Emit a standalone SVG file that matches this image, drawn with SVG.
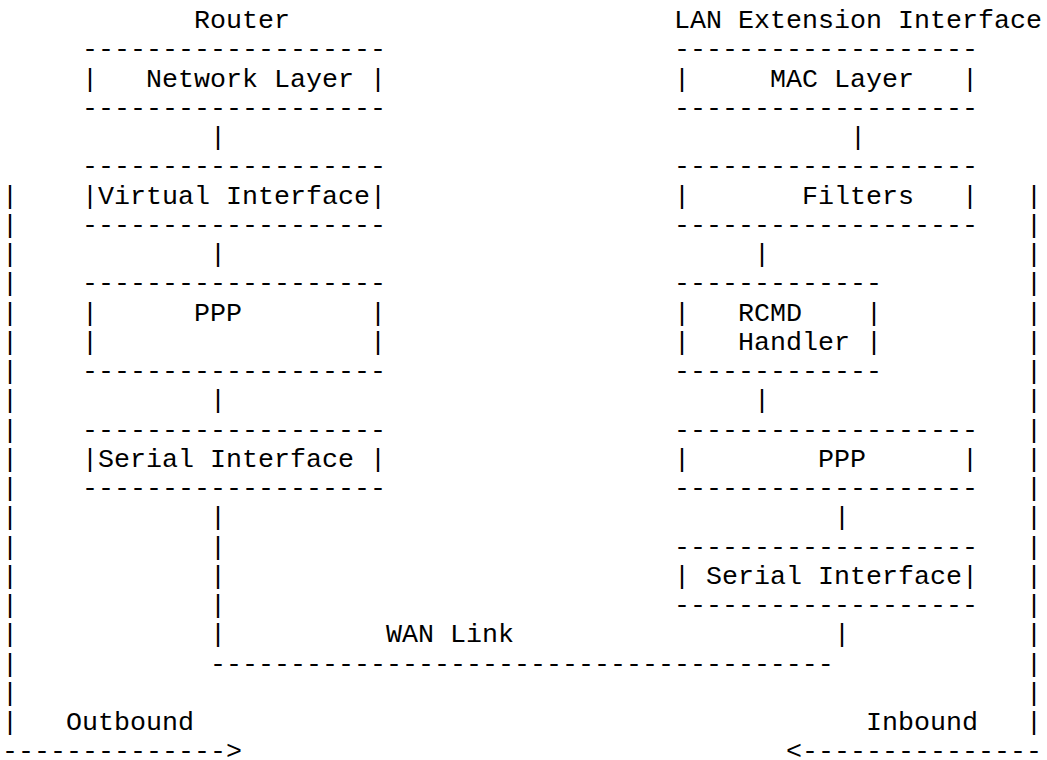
<svg xmlns="http://www.w3.org/2000/svg" width="1047" height="760" viewBox="0 0 1047 760">
<style>
text{font-family:"Liberation Mono","Courier New",monospace;font-size:26.667px;fill:#000;white-space:pre}
</style>
<rect width="1047" height="760" fill="#fff"/>
<g id="label-router"><text x="194" y="28">Router</text></g>
<g id="label-lan-ext"><text x="674" y="28">LAN Extension Interface</text></g>
<g id="node-network-layer" xml:space="preserve">
<text x="82" y="57.25">-------------------</text>
<text x="82" y="86.5">|   Network Layer |</text>
<text x="82" y="115.75">-------------------</text>
</g>
<g id="node-virtual-interface" xml:space="preserve">
<text x="82" y="174.25">-------------------</text>
<text x="82" y="203.5">|Virtual Interface|</text>
<text x="82" y="232.75">-------------------</text>
</g>
<g id="node-ppp-router" xml:space="preserve">
<text x="82" y="291.25">-------------------</text>
<text x="82" y="320.5">|      PPP        |</text>
<text x="82" y="349.75">|                 |</text>
<text x="82" y="379">-------------------</text>
</g>
<g id="node-serial-router" xml:space="preserve">
<text x="82" y="437.5">-------------------</text>
<text x="82" y="466.75">|Serial Interface |</text>
<text x="82" y="496">-------------------</text>
</g>
<g id="node-mac-layer" xml:space="preserve">
<text x="674" y="57.25">-------------------</text>
<text x="674" y="86.5">|     MAC Layer   |</text>
<text x="674" y="115.75">-------------------</text>
</g>
<g id="node-filters" xml:space="preserve">
<text x="674" y="174.25">-------------------</text>
<text x="674" y="203.5">|       Filters   |</text>
<text x="674" y="232.75">-------------------</text>
</g>
<g id="node-rcmd-handler" xml:space="preserve">
<text x="674" y="291.25">-------------</text>
<text x="674" y="320.5">|   RCMD    |</text>
<text x="674" y="349.75">|   Handler |</text>
<text x="674" y="379">-------------</text>
</g>
<g id="node-ppp-lan" xml:space="preserve">
<text x="674" y="437.5">-------------------</text>
<text x="674" y="466.75">|        PPP      |</text>
<text x="674" y="496">-------------------</text>
</g>
<g id="node-serial-lan" xml:space="preserve">
<text x="674" y="554.5">-------------------</text>
<text x="674" y="583.75">| Serial Interface|</text>
<text x="674" y="613">-------------------</text>
</g>
<g id="connectors" xml:space="preserve">
<text x="210" y="145">|</text>
<text x="850" y="145">|</text>
<text x="210" y="262">|</text>
<text x="754" y="262">|</text>
<text x="210" y="408.25">|</text>
<text x="754" y="408.25">|</text>
<text x="210" y="525.25">|</text>
<text x="834" y="525.25">|</text>
<text x="210" y="554.5">|</text>
<text x="210" y="583.75">|</text>
<text x="210" y="613">|</text>
<text x="210" y="642.25">|</text>
<text x="834" y="642.25">|</text>
<text x="386" y="642.25">WAN Link</text>
<text x="210" y="671.5">---------------------------------------</text>
<text x="2" y="203.5">|</text><text x="1026" y="203.5">|</text>
<text x="2" y="232.75">|</text><text x="1026" y="232.75">|</text>
<text x="2" y="262">|</text><text x="1026" y="262">|</text>
<text x="2" y="291.25">|</text><text x="1026" y="291.25">|</text>
<text x="2" y="320.5">|</text><text x="1026" y="320.5">|</text>
<text x="2" y="349.75">|</text><text x="1026" y="349.75">|</text>
<text x="2" y="379">|</text><text x="1026" y="379">|</text>
<text x="2" y="408.25">|</text><text x="1026" y="408.25">|</text>
<text x="2" y="437.5">|</text><text x="1026" y="437.5">|</text>
<text x="2" y="466.75">|</text><text x="1026" y="466.75">|</text>
<text x="2" y="496">|</text><text x="1026" y="496">|</text>
<text x="2" y="525.25">|</text><text x="1026" y="525.25">|</text>
<text x="2" y="554.5">|</text><text x="1026" y="554.5">|</text>
<text x="2" y="583.75">|</text><text x="1026" y="583.75">|</text>
<text x="2" y="613">|</text><text x="1026" y="613">|</text>
<text x="2" y="642.25">|</text><text x="1026" y="642.25">|</text>
<text x="2" y="671.5">|</text><text x="1026" y="671.5">|</text>
<text x="2" y="700.75">|</text><text x="1026" y="700.75">|</text>
<text x="2" y="730">|</text><text x="1026" y="730">|</text>
<text x="66" y="730">Outbound</text>
<text x="866" y="730">Inbound</text>
<text x="2" y="759.25">--------------&gt;</text>
<text x="786" y="759.25">&lt;---------------</text>
</g>
</svg>
